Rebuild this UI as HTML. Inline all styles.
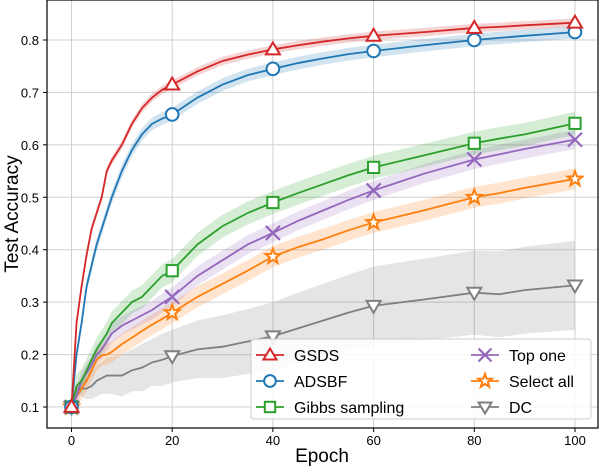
<!DOCTYPE html>
<html><head><meta charset="utf-8"><style>
body{margin:0;background:#fff}
svg{display:block;font-family:"Liberation Sans","DejaVu Sans",sans-serif}
</style></head><body>
<svg id="chart" width="602" height="466"></svg>
<script>
const epochs=[0,1,2,3,4,5,6,7,8,10,12,14,16,18,20,25,30,35,40,45,50,55,60,70,80,85,90,100];
const gsds=[0.1,0.26,0.33,0.39,0.44,0.47,0.5,0.55,0.57,0.6,0.64,0.67,0.69,0.705,0.715,0.74,0.76,0.772,0.782,0.79,0.797,0.803,0.808,0.815,0.823,0.825,0.828,0.833];
const adsbf=[0.1,0.2,0.26,0.33,0.37,0.41,0.44,0.47,0.5,0.55,0.59,0.62,0.64,0.65,0.658,0.69,0.715,0.733,0.745,0.756,0.765,0.773,0.779,0.79,0.8,0.804,0.808,0.815];
const gibbs=[0.1,0.14,0.15,0.17,0.19,0.21,0.225,0.24,0.26,0.28,0.3,0.31,0.33,0.35,0.36,0.41,0.445,0.47,0.49,0.508,0.525,0.542,0.557,0.58,0.603,0.612,0.62,0.641];
const topOne=[0.1,0.12,0.15,0.165,0.18,0.2,0.21,0.225,0.24,0.255,0.265,0.275,0.285,0.298,0.31,0.35,0.38,0.41,0.432,0.455,0.475,0.495,0.513,0.545,0.572,0.582,0.592,0.61];
const selectAll=[0.1,0.12,0.135,0.15,0.17,0.19,0.198,0.2,0.205,0.22,0.232,0.245,0.257,0.268,0.28,0.31,0.335,0.36,0.387,0.405,0.42,0.437,0.452,0.475,0.5,0.508,0.518,0.535];
const dc=[0.1,0.135,0.135,0.135,0.14,0.15,0.155,0.16,0.16,0.16,0.17,0.175,0.185,0.19,0.197,0.21,0.215,0.225,0.235,0.25,0.265,0.28,0.293,0.305,0.318,0.315,0.323,0.332];
const dcBand=[0.005,0.01,0.015,0.02,0.025,0.03,0.03,0.035,0.035,0.04,0.04,0.045,0.045,0.05,0.05,0.055,0.06,0.062,0.065,0.068,0.07,0.072,0.075,0.078,0.08,0.082,0.083,0.085];
const markEpochs=[0,20,40,60,80,100];
const xTicks=[0,20,40,60,80,100];
const yTicks=[0.1,0.2,0.3,0.4,0.5,0.6,0.7,0.8];
const series=[
 {name:"gsds",label:"GSDS",vals:gsds,color:"#d62728",band:0.008,m:"tri"},
 {name:"adsbf",label:"ADSBF",vals:adsbf,color:"#1f77b4",band:0.012,m:"circ"},
 {name:"gibbs",label:"Gibbs sampling",vals:gibbs,color:"#2ca02c",band:0.022,m:"sq"},
 {name:"top-one",label:"Top one",vals:topOne,color:"#9467bd",band:0.018,m:"x"},
 {name:"select-all",label:"Select all",vals:selectAll,color:"#ff7f0e",band:0.02,m:"star"},
 {name:"dc",label:"DC",vals:dc,color:"#7f7f7f",band:dcBand,m:"vtri"}
];
const L=47,R=598,T=0,B=428;
const X=e=>71.5+e*5.035;
const Y=v=>407-(v-0.1)*524.3;
const NS="http://www.w3.org/2000/svg";
const svg=document.getElementById('chart');
function mk(t,a,p){const e=document.createElementNS(NS,t);for(const k in a)e.setAttribute(k,a[k]);(p||svg).appendChild(e);return e;}
xTicks.forEach(t=>{const g=mk('line',{x1:X(t),x2:X(t),y1:T,y2:B,stroke:"#d0d0d0","stroke-width":1});

const l=mk('text',{x:X(t),y:B+17,"text-anchor":"middle","font-size":13,fill:"#000"});l.textContent=t;

mk('line',{x1:X(t),x2:X(t),y1:B,y2:B+4,stroke:"#000"});});
yTicks.forEach(t=>{const g=mk('line',{x1:L,x2:R,y1:Y(t),y2:Y(t),stroke:"#d0d0d0","stroke-width":1});

const l=mk('text',{x:L-8,y:Y(t)+5,"text-anchor":"end","font-size":13,fill:"#000"});l.textContent=t.toFixed(1);

mk('line',{x1:L-4,x2:L,y1:Y(t),y2:Y(t),stroke:"#000"});});
function marker(type,x,y,c,p,s){s=s||7;
 const a={fill:"#fff",stroke:c,"stroke-width":2};
 if(type=="tri")return mk('polygon',Object.assign({points:`${x},${y-s} ${x-s},${y+s*0.7} ${x+s},${y+s*0.7}`},a),p);
 if(type=="vtri")return mk('polygon',Object.assign({points:`${x},${y+s} ${x-s},${y-s*0.7} ${x+s},${y-s*0.7}`},a),p);
 if(type=="circ")return mk('circle',Object.assign({cx:x,cy:y,r:s*0.9},a),p);
 if(type=="sq")return mk('rect',Object.assign({x:x-s*0.8,y:y-s*0.8,width:s*1.6,height:s*1.6},a),p);
 if(type=="x")return mk('path',{d:`M${x-s} ${y-s}L${x+s} ${y+s}M${x-s} ${y+s}L${x+s} ${y-s}`,stroke:c,"stroke-width":2.2},p);
 let pts=[];for(let i=0;i<10;i++){const r=i%2?s*0.45:s*1.1,an=-Math.PI/2+i*Math.PI/5;pts.push((x+r*Math.cos(an)).toFixed(1)+","+(y+r*Math.sin(an)).toFixed(1));}
 return mk('polygon',Object.assign({points:pts.join(" ")},a),p);}
const order=[5,4,3,2,1,0];
order.forEach(i=>{const s=series[i];
 const bw=k=>Array.isArray(s.band)?s.band[k]:s.band;
 let up=epochs.map((e,k)=>X(e)+","+Y(s.vals[k]+bw(k)));
 let dn=epochs.map((e,k)=>X(e)+","+Y(s.vals[k]-bw(k))).reverse();
 const b=mk('polygon',{points:up.concat(dn).join(" "),fill:s.color,"fill-opacity":0.2});
 });
order.forEach(i=>{const s=series[i];
 const l=mk('polyline',{points:epochs.map((e,k)=>X(e)+","+Y(s.vals[k])).join(" "),fill:"none",stroke:s.color,"stroke-width":1.8});
 
 markEpochs.forEach(e=>{const k=epochs.indexOf(e);const m=marker(s.m,X(e),Y(s.vals[k]),s.color);
 });});
const f=mk('rect',{x:L,y:T,width:R-L,height:B-T,fill:"none",stroke:"#000","stroke-width":1.2});

const lg=mk('g',{});
mk('rect',{x:251,y:339,width:340,height:80,rx:3,fill:"#fff","fill-opacity":0.85,stroke:"#ccc"},lg);
series.forEach((s,i)=>{const col=i<3?0:1,row=i%3;const x0=col?471:256,y0=355+row*26;
 const g=mk('g',{},lg);
 mk('line',{x1:x0,x2:x0+28,y1:y0,y2:y0,stroke:s.color,"stroke-width":1.8},g);
 marker(s.m,x0+14,y0,s.color,g,6.5);
 const t=mk('text',{x:x0+38,y:y0+6,"font-size":16,fill:"#000"},g);t.textContent=s.label;});
const xl=mk('text',{x:322,y:462,"text-anchor":"middle","font-size":19,fill:"#000"});xl.textContent="Epoch";

const yl=mk('text',{x:0,y:0,"text-anchor":"middle","font-size":19,fill:"#000",transform:"translate(18,214) rotate(-90)"});yl.textContent="Test Accuracy";

</script>
</body></html>
